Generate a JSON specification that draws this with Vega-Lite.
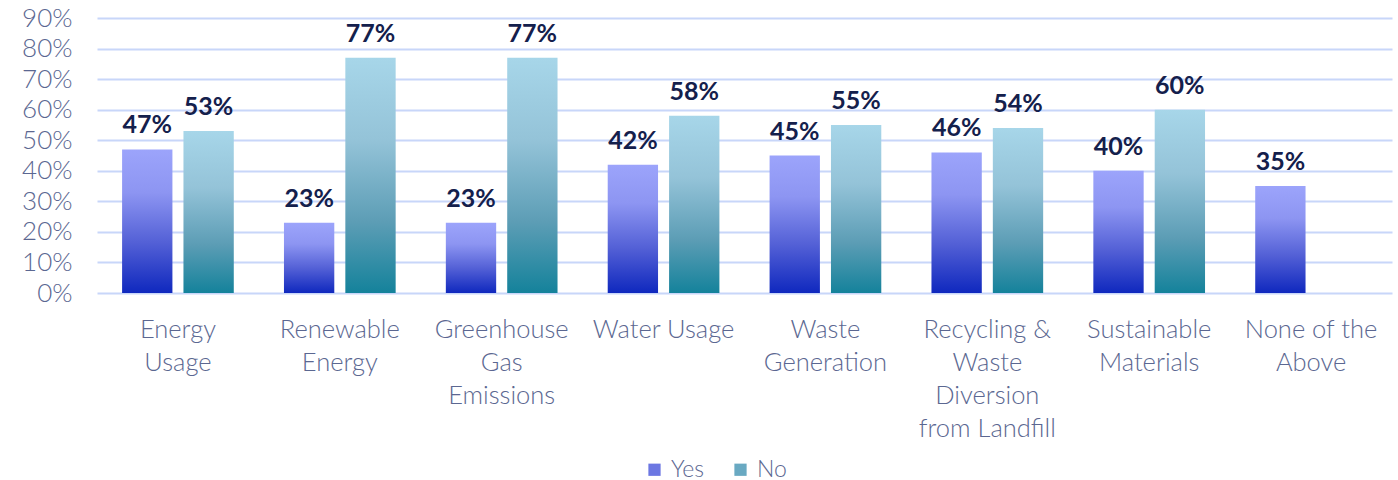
{
  "$schema": "https://vega.github.io/schema/vega-lite/v6.json",
  "width": 1295,
  "height": 275,
  "autosize": {"type": "none"},
  "padding": {"left": 97, "top": 18, "right": 6, "bottom": 187},
  "background": "white",
  "config": {
    "view": {"stroke": null},
    "font": "Lato"
  },
  "data": {
    "values": [
      {"category": "Energy Usage", "answer": "Yes", "value": 0.47},
      {"category": "Energy Usage", "answer": "No", "value": 0.53},
      {"category": "Renewable Energy", "answer": "Yes", "value": 0.23},
      {"category": "Renewable Energy", "answer": "No", "value": 0.77},
      {"category": "Greenhouse Gas Emissions", "answer": "Yes", "value": 0.23},
      {"category": "Greenhouse Gas Emissions", "answer": "No", "value": 0.77},
      {"category": "Water Usage", "answer": "Yes", "value": 0.42},
      {"category": "Water Usage", "answer": "No", "value": 0.58},
      {"category": "Waste Generation", "answer": "Yes", "value": 0.45},
      {"category": "Waste Generation", "answer": "No", "value": 0.55},
      {"category": "Recycling & Waste Diversion from Landfill", "answer": "Yes", "value": 0.46},
      {"category": "Recycling & Waste Diversion from Landfill", "answer": "No", "value": 0.54},
      {"category": "Sustainable Materials", "answer": "Yes", "value": 0.40},
      {"category": "Sustainable Materials", "answer": "No", "value": 0.60},
      {"category": "None of the Above", "answer": "Yes", "value": 0.35}
    ]
  },
  "encoding": {
    "x": {
      "field": "category",
      "type": "nominal",
      "sort": null,
      "title": null,
      "scale": {"paddingInner": 0.31, "paddingOuter": 0.155},
      "axis": {
        "domain": false,
        "ticks": false,
        "labelAngle": 0,
        "labelPadding": 24,
        "labelFontSize": 25.5,
        "labelFontWeight": 300,
        "labelColor": "#5b6791",
        "labelLineHeight": 33,
        "labelBaseline": "top",
        "labelLimit": 300,
        "labelExpr": "({'Energy Usage':['Energy','Usage'],'Renewable Energy':['Renewable','Energy'],'Greenhouse Gas Emissions':['Greenhouse','Gas','Emissions'],'Water Usage':['Water Usage'],'Waste Generation':['Waste','Generation'],'Recycling & Waste Diversion from Landfill':['Recycling &','Waste','Diversion','from Landfill'],'Sustainable Materials':['Sustainable','Materials'],'None of the Above':['None of the','Above']})[datum.value]"
      }
    },
    "xOffset": {
      "field": "answer",
      "type": "nominal",
      "sort": ["Yes", "No"],
      "scale": {"domain": ["Yes", "No"], "paddingInner": 0.18, "paddingOuter": 0}
    },
    "y": {
      "field": "value",
      "type": "quantitative",
      "title": null,
      "scale": {"domain": [0, 0.9], "nice": false},
      "axis": {
        "values": [0, 0.1, 0.2, 0.3, 0.4, 0.5, 0.6, 0.7, 0.8, 0.9],
        "format": ".0%",
        "domain": false,
        "ticks": false,
        "labelPadding": 25,
        "labelFontSize": 26,
        "labelFontWeight": 300,
        "labelColor": "#5b6791",
        "gridColor": "#c8d6f9",
        "gridWidth": 2
      }
    }
  },
  "layer": [
    {
      "mark": {"type": "bar"},
      "encoding": {
        "fill": {
          "condition": {
            "test": "datum.answer === 'Yes'",
            "value": {"gradient": "linear", "x1": 0, "y1": 0, "x2": 0, "y2": 1, "stops": [
              {"offset": 0, "color": "#9ca4fb"},
              {"offset": 0.3, "color": "#8d95f2"},
              {"offset": 0.65, "color": "#5360d6"},
              {"offset": 1, "color": "#0f28be"}
            ]}
          },
          "value": {"gradient": "linear", "x1": 0, "y1": 0, "x2": 0, "y2": 1, "stops": [
            {"offset": 0, "color": "#a7d6e9"},
            {"offset": 0.35, "color": "#94c3d8"},
            {"offset": 0.7, "color": "#5c9db5"},
            {"offset": 1, "color": "#14829b"}
          ]}
        }
      }
    },
    {
      "mark": {"type": "bar", "opacity": 0},
      "encoding": {
        "color": {
          "field": "answer",
          "type": "nominal",
          "sort": ["Yes", "No"],
          "scale": {"domain": ["Yes", "No"], "range": ["#6c77e2", "#69a9c2"]},
          "legend": {
            "title": null,
            "orient": "none",
            "legendX": 546,
            "legendY": 440,
            "direction": "horizontal",
            "symbolType": "square",
            "symbolSize": 150,
            "symbolStrokeWidth": 0,
            "symbolOpacity": 1,
            "labelFontSize": 23,
            "labelFontWeight": 300,
            "labelColor": "#5b6791",
            "labelOffset": 5,
            "columnPadding": 24
          }
        }
      }
    },
    {
      "mark": {"type": "text", "baseline": "alphabetic", "dy": -16, "fontSize": 25, "fontWeight": "bold", "color": "#14204c"},
      "encoding": {
        "text": {"field": "value", "type": "quantitative", "format": ".0%"}
      }
    }
  ]
}
